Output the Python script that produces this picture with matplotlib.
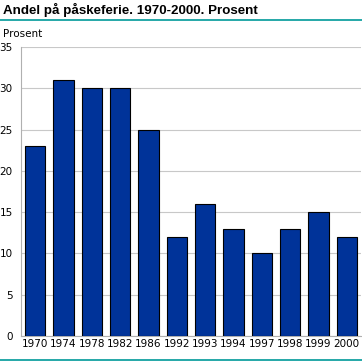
import matplotlib.pyplot as plt
from matplotlib.lines import Line2D

years = ['1970', '1974', '1978', '1982', '1986', '1992', '1993', '1994',
         '1997', '1998', '1999', '2000']
andel = [23, 31, 30, 30, 25, 12, 16, 13, 10, 13, 15, 12]
yticks = [0, 5, 10, 15, 20, 25, 30, 35]

plt.rcParams['font.family'] = 'DejaVu Sans'

fig = plt.figure(figsize=(3.62, 3.61), dpi=100)
ax = fig.add_axes([0.058, 0.069, 0.939, 0.801])

x = range(len(years))
ax.bar(x, andel, width=0.72, color='#003399', edgecolor='black', linewidth=0.8,
       zorder=3)
ax.set_xlim(-0.5, len(years) - 0.5)
ax.set_ylim(0, 35)
ax.set_yticks(yticks)
ax.set_xticks(list(x))
ax.set_xticklabels(years)
ax.tick_params(axis='both', length=0, labelsize=7.5, pad=2)
ax.tick_params(axis='y', pad=6)
ax.grid(axis='y', color='#c8c8c8', lw=0.8, zorder=0)
for s in ['top', 'right']:
    ax.spines[s].set_visible(False)
ax.spines['left'].set_color('#b0b0b0')
ax.spines['bottom'].set_color('#b0b0b0')

fig.text(0.008, 0.972, 'Andel på påskeferie. 1970-2000. Prosent',
         fontsize=9.6, fontweight='bold', va='center', ha='left',
         family='Liberation Sans')
fig.text(0.008, 0.905, 'Prosent', fontsize=7.5, va='center', ha='left')
fig.add_artist(Line2D([0, 1], [0.945, 0.945], color='#009999', lw=1.2,
                      transform=fig.transFigure))
fig.add_artist(Line2D([0, 1], [0.004, 0.004], color='#009999', lw=1.2,
                      transform=fig.transFigure))

fig.savefig('out.png', dpi=100)
